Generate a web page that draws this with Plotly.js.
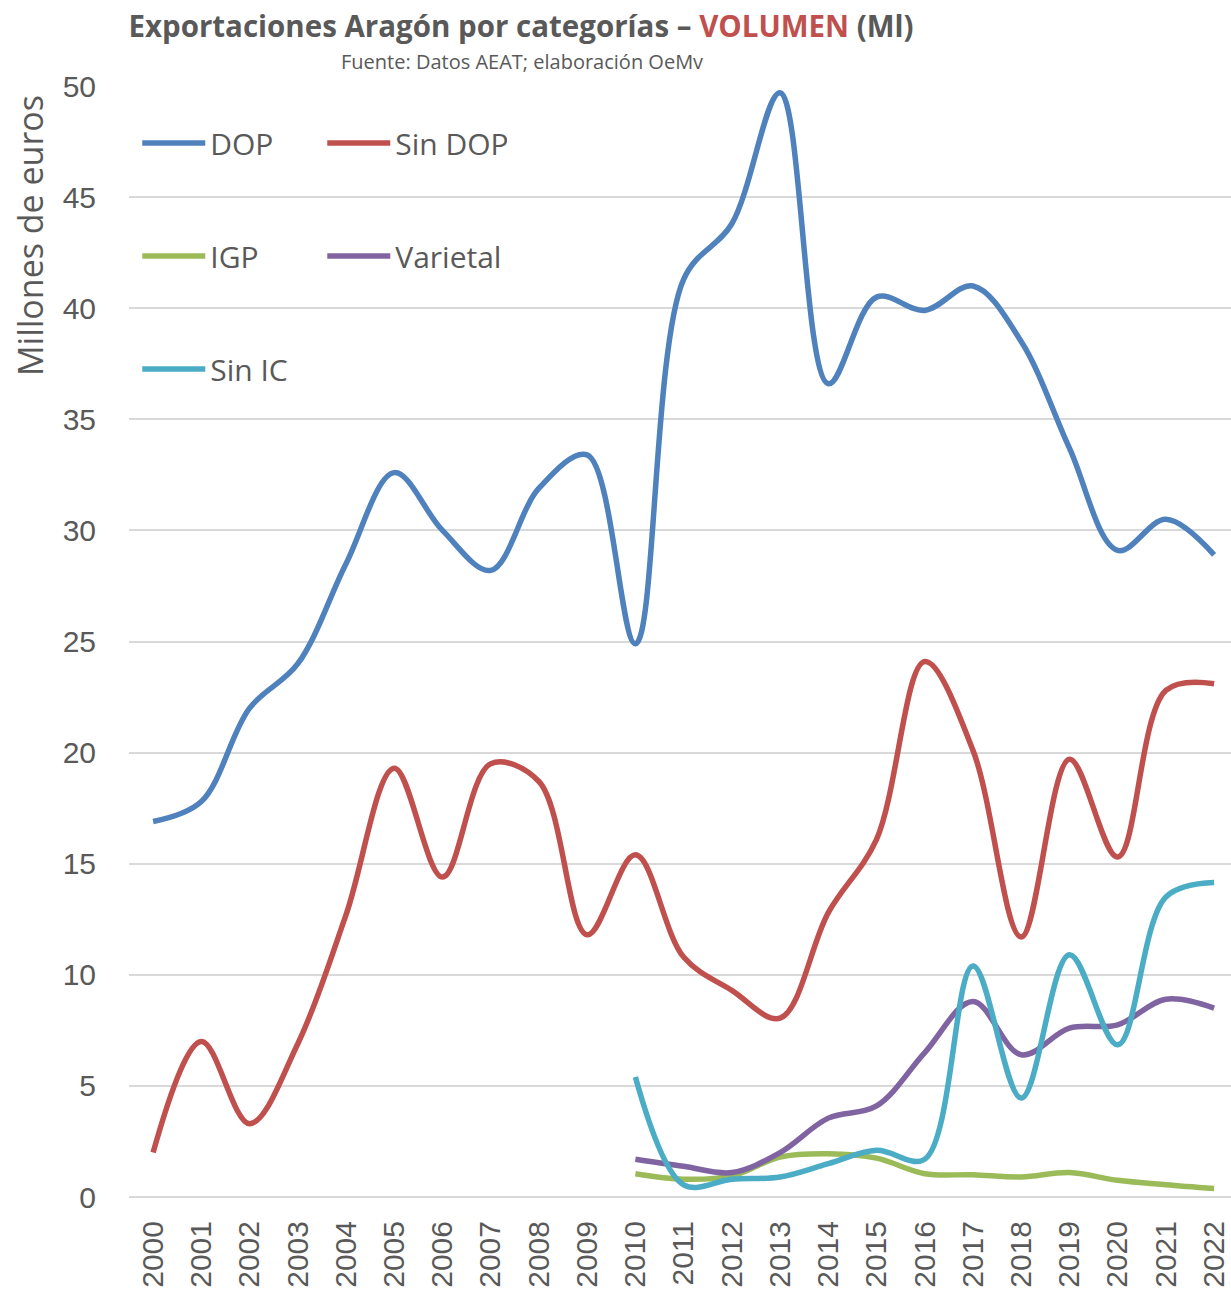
<!DOCTYPE html>
<html>
<head>
<meta charset="utf-8">
<script src="https://cdn.plot.ly/plotly-3.0.1.min.js"></script>
<style>html,body{margin:0;padding:0;background:#fff;}#chart{width:1231px;height:1293px;}</style>
</head>
<body>
<div id="chart"></div>
<script>
const years = ["2000","2001","2002","2003","2004","2005","2006","2007","2008","2009","2010","2011","2012","2013","2014","2015","2016","2017","2018","2019","2020","2021","2022"];
const yearsSince2010 = years.slice(10);

const dop     = [16.9, 17.8, 22.0, 24.0, 28.5, 32.6, 30.0, 28.2, 31.9, 33.4, 24.9, 41.3, 43.8, 49.7, 36.6, 40.5, 39.9, 41.0, 38.5, 33.7, 29.1, 30.5, 28.9];
const sinDop  = [2.0, 7.0, 3.3, 6.9, 12.7, 19.3, 14.4, 19.5, 18.7, 11.8, 15.4, 10.8, 9.3, 8.05, 12.8, 16.1, 24.1, 20.1, 11.7, 19.7, 15.3, 22.8, 23.1];
const igp     = [1.05, 0.8, 0.95, 1.8, 1.95, 1.75, 1.05, 1.0, 0.9, 1.1, 0.75, 0.55, 0.38];
const varietal= [1.7, 1.38, 1.1, 2.0, 3.55, 4.1, 6.5, 8.8, 6.4, 7.6, 7.75, 8.9, 8.5];
const sinIC   = [5.4, 0.55, 0.8, 0.9, 1.5, 2.1, 1.7, 10.4, 4.45, 10.9, 6.85, 13.5, 14.15];

const seriesNames = ["DOP", "Sin DOP", "IGP", "Varietal", "Sin IC"];
const seriesColors = ["#4f81bd", "#c0504d", "#9bbb59", "#8064a2", "#4bacc6"];

const titleMain = "Exportaciones Aragón por categorías – ";
const titleHighlight = "VOLUMEN";
const titleTail = " (Ml)";
const subtitle = "Fuente: Datos AEAT; elaboración OeMv";
const yTitle = "Millones de euros";

const txtFont = "Open Sans, Noto Sans, sans-serif";
const grey = "#595959";

function mk(i, x, y, legendId) {
  return {
    type: "scatter", mode: "lines", name: seriesNames[i],
    x: x, y: y,
    line: {color: seriesColors[i], width: 5.5, shape: "spline", smoothing: 1},
    legend: legendId, hoverinfo: "x+y+name"
  };
}

const data = [
  mk(0, years, dop, "legend"),
  mk(1, years, sinDop, "legend"),
  mk(2, yearsSince2010, igp, "legend2"),
  mk(3, yearsSince2010, varietal, "legend2"),
  mk(4, yearsSince2010, sinIC, "legend3")
];

const legBase = {
  orientation: "h", xanchor: "left", yanchor: "middle",
  x: 0.0075, bgcolor: "rgba(0,0,0,0)",
  font: {family: txtFont, size: 30, color: grey},
  entrywidth: 107, entrywidthmode: "pixels",
  itemwidth: 63, tracegroupgap: 0
};

const layout = {
  width: 1231, height: 1293,
  margin: {l: 129, r: 0, t: 86, b: 96, pad: 0},
  paper_bgcolor: "#ffffff", plot_bgcolor: "#ffffff",
  showlegend: true,
  title: {
    text: titleMain + '<span style="color:#c0504d">' + titleHighlight + '</span>' + titleTail,
    font: {family: txtFont, size: 29.5, color: grey, weight: "bold"},
    x: 521/1231, xanchor: "center", xref: "container",
    y: 1 - 27/1293, yanchor: "middle", yref: "container"
  },
  annotations: [{
    text: subtitle, xref: "paper", yref: "paper",
    x: (522 - 129)/1102, y: (1197 - 62)/1111,
    xanchor: "center", yanchor: "middle", showarrow: false,
    font: {family: txtFont, size: 20, color: grey}
  }, {
    text: yTitle, xref: "paper", yref: "paper", textangle: -90,
    x: (30 - 129)/1102, y: (1197 - 236)/1111,
    xanchor: "center", yanchor: "middle", showarrow: false,
    font: {family: txtFont, size: 34, color: grey}
  }],
  xaxis: {
    type: "category",
    range: [-0.5, 22.35],
    showgrid: false, zeroline: false, showline: false,
    ticks: "", tickangle: -90,
    tickfont: {family: "Liberation Sans, Arial, sans-serif", size: 30, color: grey},
    ticklabelstandoff: 17,
    fixedrange: true
  },
  yaxis: {
    range: [0, 50], dtick: 5, tick0: 0,
    showgrid: true, gridcolor: "#d9d9d9", gridwidth: 2,
    zeroline: true, zerolinecolor: "#d9d9d9", zerolinewidth: 2,
    showline: false, ticks: "",
    tickfont: {family: "Liberation Sans, Arial, sans-serif", size: 30, color: grey},
    ticklabelstandoff: 32,
    automargin: false,
    fixedrange: true
  },
  legend: Object.assign({}, legBase, {y: (1197 - 143)/1111}),
  legend2: Object.assign({}, legBase, {y: (1197 - 256)/1111}),
  legend3: Object.assign({}, legBase, {y: (1197 - 369)/1111})
};

Plotly.newPlot("chart", data, layout, {displayModeBar: false, staticPlot: true});
</script>
</body>
</html>
